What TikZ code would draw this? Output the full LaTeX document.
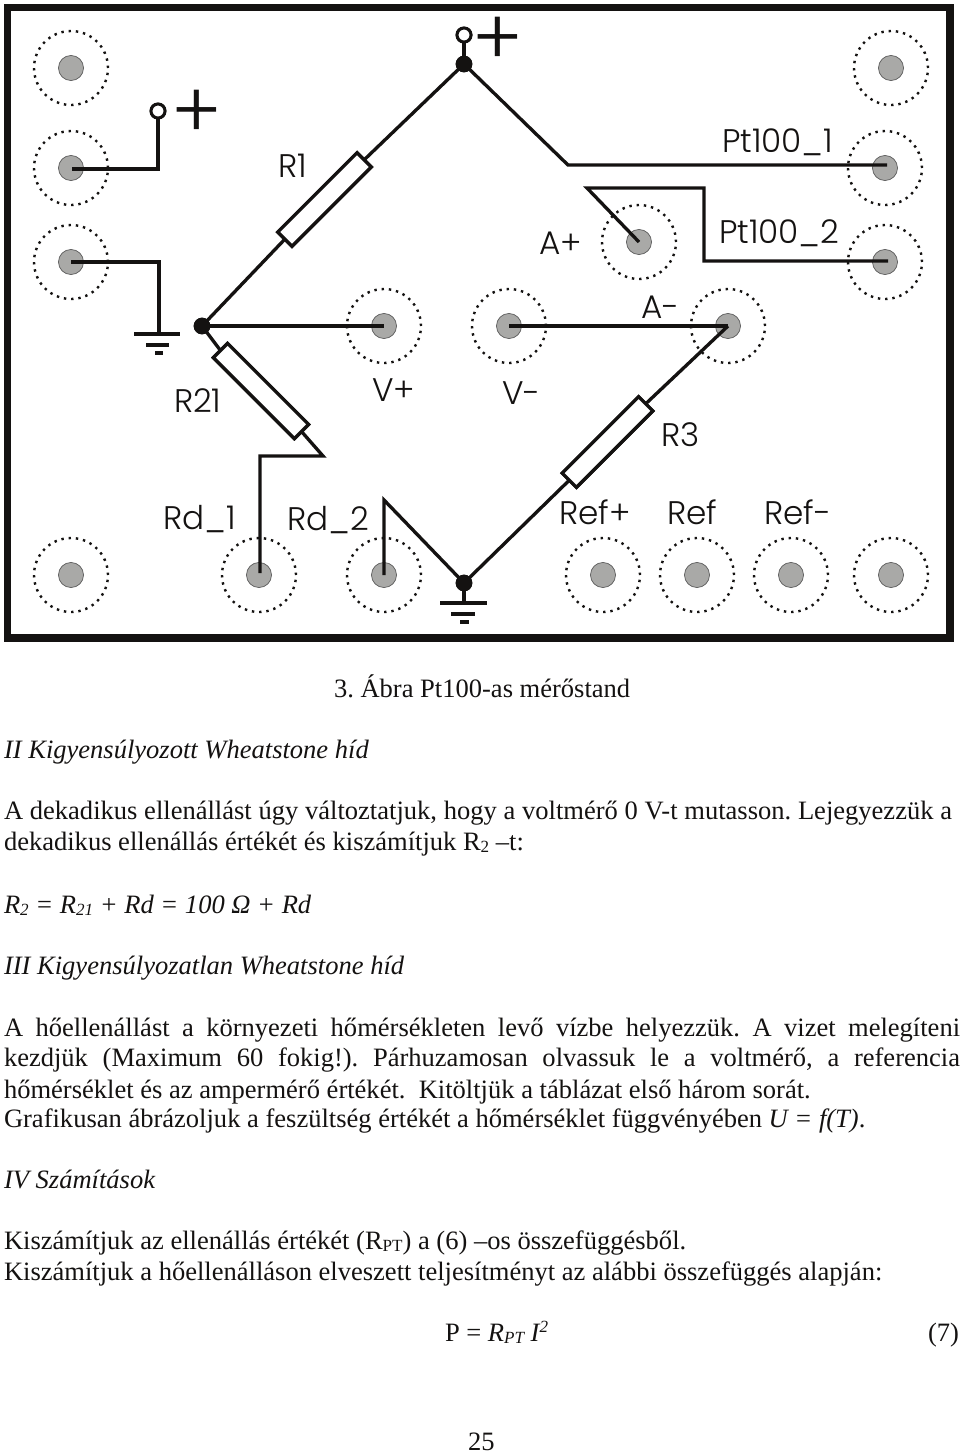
\documentclass[tikz,border=0pt]{standalone}
\usepackage{fontspec}
\setmainfont{Liberation Serif}
\newfontfamily\labf[UprightFont={* Light}]{Poppins}
\definecolor{ink}{HTML}{141211}
\definecolor{padgray}{HTML}{A9A9A7}
\newcommand{\lsub}[1]{\raisebox{-2.2pt}{\fontsize{12.8}{12.8}\selectfont #1}}
\newcommand{\lsup}[1]{\raisebox{6.5pt}{\fontsize{12.8}{12.8}\selectfont #1}}
\tikzset{
  wire/.style={draw=ink,line width=2.5pt,line join=miter,line cap=butt},
  ringdots/.style={circle,draw=ink,line width=1.8pt,dash pattern=on 1.8pt off 3.65pt,minimum size=55.5pt,inner sep=0pt,outer sep=0pt},
  pad/.style={circle,draw=black!65,line width=0.5pt,fill=padgray,minimum size=18.8pt,inner sep=0pt,outer sep=0pt},
  junction/.style={circle,fill=ink,minimum size=12.5pt,inner sep=0pt,outer sep=0pt},
  post/.style={circle,draw=ink,line width=2.2pt,fill=white,minimum size=10.5pt,inner sep=0pt,outer sep=0pt},
  resistor/.style={rectangle,draw=ink,line width=2.5pt,fill=white,minimum width=#1,minimum height=15pt,inner sep=0pt,outer sep=0pt},
  lab/.style={anchor=base west,inner sep=0pt,outer sep=0pt,text=ink,font=\labf\fontsize{24.5}{24.5}\selectfont},
  plus/.style={anchor=center,inner sep=0pt,outer sep=0pt,text=ink,font=\labf\fontsize{58}{58}\selectfont},
  body/.style={anchor=base west,inner sep=0pt,outer sep=0pt,text=ink,font=\fontsize{19.9}{19.9}\selectfont\frenchspacing},
  ital/.style={body,font=\fontsize{19.9}{19.9}\selectfont\itshape\frenchspacing}
}
\begin{document}
\begin{tikzpicture}[x=0.75pt,y=-0.75pt]
\useasboundingbox (0,0) rectangle (960,1453);
\fill[white] (0,0) rectangle (960,1453);
\draw[ink,line width=5.3pt,line join=miter] (7.5,7.5) rectangle (950,638);
% terminals
\foreach \n/\x/\y in {a/71/68,b/71/168,c/71/262,d/891/68,e/885/168,f/885/262,g/639/242,h/384/326,i/509/326,j/728/326,k/71/575,l/259/575,m/384/575,n/603/575,o/697/575,p/791/575,q/891/575}{
  \node[ringdots] (ring\n) at (\x,\y) {};
  \node[pad] (pad\n) at (\x,\y) {};
}
% junctions and posts
\node[junction] (top) at (464,64) {};
\node[junction] (left) at (202,326) {};
\node[junction] (bot) at (464,583) {};
\node[post] (posttop) at (464,35) {};
\node[post] (postleft) at (158,111) {};
% resistors
\node[resistor=84pt,rotate=45] (Rone) at (324.5,199.5) {};
\node[resistor=86pt,rotate=-45] (Rtwo) at (261,391) {};
\node[resistor=81pt,rotate=45] (Rthree) at (607.5,442) {};
% bend coordinates
\coordinate (c1) at (158,169);
\coordinate (c1e) at (72,169);
\coordinate (c2) at (159,262);
\coordinate (g1) at (159,334);
\coordinate (g1a) at (134,334);
\coordinate (g1b) at (180,334);
\coordinate (g1c) at (146,345);
\coordinate (g1d) at (169,345);
\coordinate (g1e) at (155,353);
\coordinate (g1f) at (163,353);
\coordinate (g2) at (464,603);
\coordinate (g2a) at (440,603);
\coordinate (g2b) at (487,603);
\coordinate (g2c) at (451,614);
\coordinate (g2d) at (475,614);
\coordinate (g2e) at (460,622);
\coordinate (g2f) at (469,622);
\coordinate (p1a) at (568,165);
\coordinate (p1b) at (887,165);
\coordinate (p2a) at (587,188);
\coordinate (p2b) at (704,188);
\coordinate (p2c) at (704,261);
\coordinate (p2d) at (888,261);
\coordinate (r21a) at (323,456);
\coordinate (r21b) at (260,456);
\coordinate (r21c) at (260,573);
\coordinate (rd2a) at (384,500);
% wires
\draw[wire] (c1e) -- (c1) -- (postleft.south);
\draw[wire] (padc.center) -- (c2) -- (g1);
\draw[wire] (g1a) -- (g1b);
\draw[wire] (g1c) -- (g1d);
\draw[wire] (g1e) -- (g1f);
\draw[wire] (left.center) -- (Rone.west);
\draw[wire] (Rone.east) -- (top.center);
\draw[wire] (posttop.south) -- (top.center);
\draw[wire] (top.center) -- (p1a) -- (p1b);
\draw[wire] (padg.center) -- (p2a) -- (p2b) -- (p2c) -- (p2d);
\draw[wire] (left.center) -- (padh.center);
\draw[wire] (padi.center) -- (padj.center);
\draw[wire] (left.center) -- (Rtwo.west);
\draw[wire] (Rtwo.east) -- (r21a) -- (r21b) -- (r21c);
\draw[wire] (padm.center) -- (rd2a) -- (bot.center);
\draw[wire] (padj.center) -- (Rthree.east);
\draw[wire] (Rthree.west) -- (bot.center);
\draw[wire] (bot.center) -- (g2);
\draw[wire] (g2a) -- (g2b);
\draw[wire] (g2c) -- (g2d);
\draw[wire] (g2e) -- (g2f);
% redraw on top
\node[resistor=84pt,rotate=45] at (324.5,199.5) {};
\node[resistor=86pt,rotate=-45] at (261,391) {};
\node[resistor=81pt,rotate=45] at (607.5,442) {};
\node[junction] at (464,64) {};
\node[junction] at (202,326) {};
\node[junction] at (464,583) {};
\node[post] at (464,35) {};
\node[post] at (158,111) {};
% labels
\node[plus] (plustop) at (498,41) {+};
\node[plus] (plusleft) at (197,114) {+};
\node[lab] (lR1) at (278,177) {R1};
\node[lab] (lAp) at (539,254) {A+};
\node[lab] (lPa) at (722,152) {Pt100\_1};
\node[lab] (lPb) at (719,243) {Pt100\_2};
\node[lab] (lAm) at (641,318) {A-};
\node[lab] (lVp) at (372,401) {V+};
\node[lab] (lVm) at (502,404) {V-};
\node[lab] (lR21) at (174,412) {R21};
\node[lab] (lR3) at (661,446) {R3};
\node[lab] (lRd1) at (163,529) {Rd\_1};
\node[lab] (lRd2) at (287,530) {Rd\_2};
\node[lab] (lRefp) at (559,524) {Ref+};
\node[lab] (lRef) at (667,524) {Ref};
\node[lab] (lRefm) at (764,524) {Ref-};
% body text
\node[body] (t1) at (334,697) {3. Ábra Pt100-as mérőstand};
\node[ital] (t2) at (4,758) {II Kigyensúlyozott Wheatstone híd};
\node[body] (t3) at (4,819) {\makebox[711pt][s]{A dekadikus ellenállást úgy változtatjuk, hogy a voltmérő 0 V-t mutasson. Lejegyezzük a}};
\node[body] (t4) at (4,850) {dekadikus ellenállás értékét és kiszámítjuk R\lsub{2} –t:};
\node[ital] (t5) at (4,913) {R\lsub{2} = R\lsub{21} + Rd = 100 Ω + Rd};
\node[ital] (t6) at (4,974) {III Kigyensúlyozatlan Wheatstone híd};
\node[body] (t7) at (4,1036) {\makebox[717pt][s]{A hőellenállást a környezeti hőmérsékleten levő vízbe helyezzük. A vizet melegíteni}};
\node[body] (t8) at (4,1066) {\makebox[717pt][s]{kezdjük (Maximum 60 fokig!). Párhuzamosan olvassuk le a voltmérő, a referencia}};
\node[body] (t9) at (4,1098) {hőmérséklet és az ampermérő értékét.\ \ Kitöltjük a táblázat első három sorát.};
\node[body] (t10) at (4,1127) {Grafikusan ábrázoljuk a feszültség értékét a hőmérséklet függvényében \textit{U = f(T)}.};
\node[ital] (t11) at (4,1188) {IV Számítások};
\node[body] (t12) at (4,1249) {Kiszámítjuk az ellenállás értékét (R\lsub{PT}) a (6) –os összefüggésből.};
\node[body] (t13) at (4,1280) {Kiszámítjuk a hőellenálláson elveszett teljesítményt az alábbi összefüggés alapján:};
\node[body] (t14) at (445,1341) {P = \textit{R\lsub{PT} I\lsup{2}}};
\node[body] (t15) at (928,1341) {(7)};
\node[body] (t16) at (468,1450) {25};
\end{tikzpicture}
\end{document}
